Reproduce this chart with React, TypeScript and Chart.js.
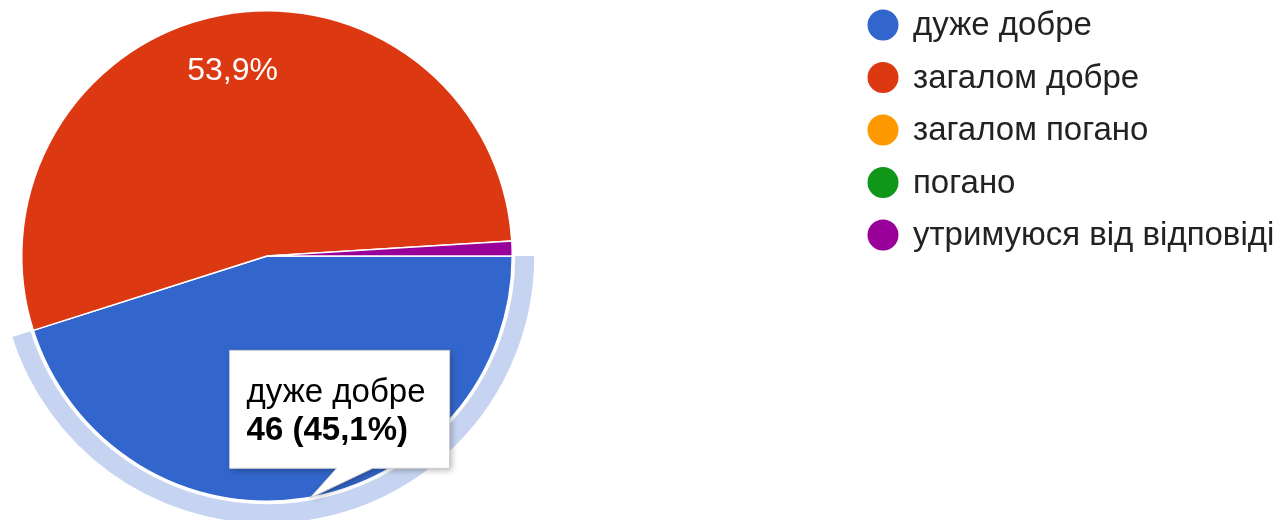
import React, { useEffect, useRef } from "react";
import { Chart, registerables } from "chart.js";

Chart.register(...registerables);

const categories = [
  "дуже добре",
  "загалом добре",
  "загалом погано",
  "погано",
  "утримуюся від відповіді",
];
const counts = [46, 55, 0, 0, 1];
const colors = ["#3366cc", "#dc3912", "#ff9900", "#109618", "#990099"];
const highlightedIndex = 0;

const FONT = '"Liberation Sans", Arial, sans-serif';

function pctText(v: number, total: number) {
  return (Math.round((v / total) * 1000) / 10).toFixed(1).replace(".", ",") + "%";
}

const googlePiePlugin = {
  id: "googlePie",
  afterDatasetsDraw(chart: any) {
    const ctx = chart.ctx as CanvasRenderingContext2D;
    const meta = chart.getDatasetMeta(0);
    const data = chart.data.datasets[0].data as number[];
    const total = data.reduce((a, b) => a + b, 0);
    const hl = meta.data[highlightedIndex];
    if (hl) {
      const p = hl.getProps(["x", "y", "startAngle", "endAngle", "outerRadius"], true);
      ctx.save();
      ctx.beginPath();
      ctx.arc(p.x, p.y, p.outerRadius + 22, p.startAngle, p.endAngle);
      ctx.arc(p.x, p.y, p.outerRadius + 3, p.endAngle, p.startAngle, true);
      ctx.closePath();
      ctx.fillStyle = "rgba(51,102,204,0.28)";
      ctx.fill();
      ctx.restore();
    }
    ctx.save();
    ctx.font = `32px ${FONT}`;
    ctx.fillStyle = "#ffffff";
    ctx.textAlign = "center";
    ctx.textBaseline = "middle";
    meta.data.forEach((arc: any, i: number) => {
      const v = data[i];
      if (!v || v / total < 0.05) return;
      const p = arc.getProps(["x", "y", "startAngle", "endAngle", "outerRadius"], true);
      const mid = (p.startAngle + p.endAngle) / 2;
      const r = p.outerRadius * 0.765;
      ctx.fillText(pctText(v, total), p.x + Math.cos(mid) * r, p.y + Math.sin(mid) * r);
    });
    ctx.restore();
  },
  afterDraw(chart: any) {
    const ctx = chart.ctx as CanvasRenderingContext2D;
    const meta = chart.getDatasetMeta(0);
    const data = chart.data.datasets[0].data as number[];
    const labels = chart.data.labels as string[];
    const bg = chart.data.datasets[0].backgroundColor as string[];
    const total = data.reduce((a, b) => a + b, 0);

    ctx.save();
    ctx.font = `33px ${FONT}`;
    ctx.textBaseline = "middle";
    ctx.textAlign = "left";
    labels.forEach((lab, i) => {
      const cy = 25 + i * 52.5;
      ctx.beginPath();
      ctx.arc(883, cy, 15.5, 0, Math.PI * 2);
      ctx.fillStyle = bg[i];
      ctx.fill();
      ctx.fillStyle = "#222222";
      ctx.fillText(lab, 913, cy + 1);
    });
    ctx.restore();

    const arc = meta.data[highlightedIndex];
    if (!arc) return;
    const p = arc.getProps(["x", "y", "startAngle", "endAngle", "outerRadius"], true);
    const mid = (p.startAngle + p.endAngle) / 2;
    const tipX = p.x + Math.cos(mid) * p.outerRadius + 5;
    const tipY = p.y + Math.sin(mid) * p.outerRadius;
    const bx = tipX - 80;
    const by = tipY - 148;
    const bw = 220;
    const bh = 118;
    const bb = by + bh;
    ctx.save();
    ctx.beginPath();
    ctx.moveTo(bx, by);
    ctx.lineTo(bx + bw, by);
    ctx.lineTo(bx + bw, bb);
    ctx.lineTo(tipX + 63, bb);
    ctx.lineTo(tipX, tipY);
    ctx.lineTo(tipX + 27, bb);
    ctx.lineTo(bx, bb);
    ctx.closePath();
    ctx.shadowColor = "rgba(0,0,0,0.3)";
    ctx.shadowBlur = 6;
    ctx.shadowOffsetX = 2;
    ctx.shadowOffsetY = 2;
    ctx.fillStyle = "#ffffff";
    ctx.fill();
    ctx.shadowColor = "transparent";
    ctx.lineWidth = 1;
    ctx.strokeStyle = "#cccccc";
    ctx.stroke();
    ctx.fillStyle = "#000000";
    ctx.textAlign = "left";
    ctx.textBaseline = "alphabetic";
    ctx.font = `33px ${FONT}`;
    ctx.fillText(labels[highlightedIndex], bx + 17, by + 52);
    ctx.font = `bold 33px ${FONT}`;
    const v = data[highlightedIndex];
    ctx.fillText(`${v} (${pctText(v, total)})`, bx + 17, by + 90);
    ctx.restore();
  },
};

export default function App() {
  const ref = useRef<HTMLCanvasElement | null>(null);
  useEffect(() => {
    if (!ref.current) return;
    const chart = new Chart(ref.current, {
      type: "pie",
      data: {
        labels: categories,
        datasets: [
          {
            data: counts,
            backgroundColor: colors,
            borderColor: "#ffffff",
            borderWidth: 1.5,
          },
        ],
      },
      options: {
        responsive: false,
        animation: false,
        events: [],
        rotation: 90,
        layout: { padding: { left: 21, top: 10, right: 767, bottom: 18 } },
        plugins: {
          legend: { display: false },
          tooltip: { enabled: false },
        },
      },
      plugins: [googlePiePlugin],
    });
    return () => chart.destroy();
  }, []);
  return (
    <div style={{ position: "absolute", left: 0, top: 0, width: 1280, height: 520, background: "#fff" }}>
      <canvas ref={ref} width={1280} height={520} style={{ width: 1280, height: 520, display: "block" }} />
    </div>
  );
}
